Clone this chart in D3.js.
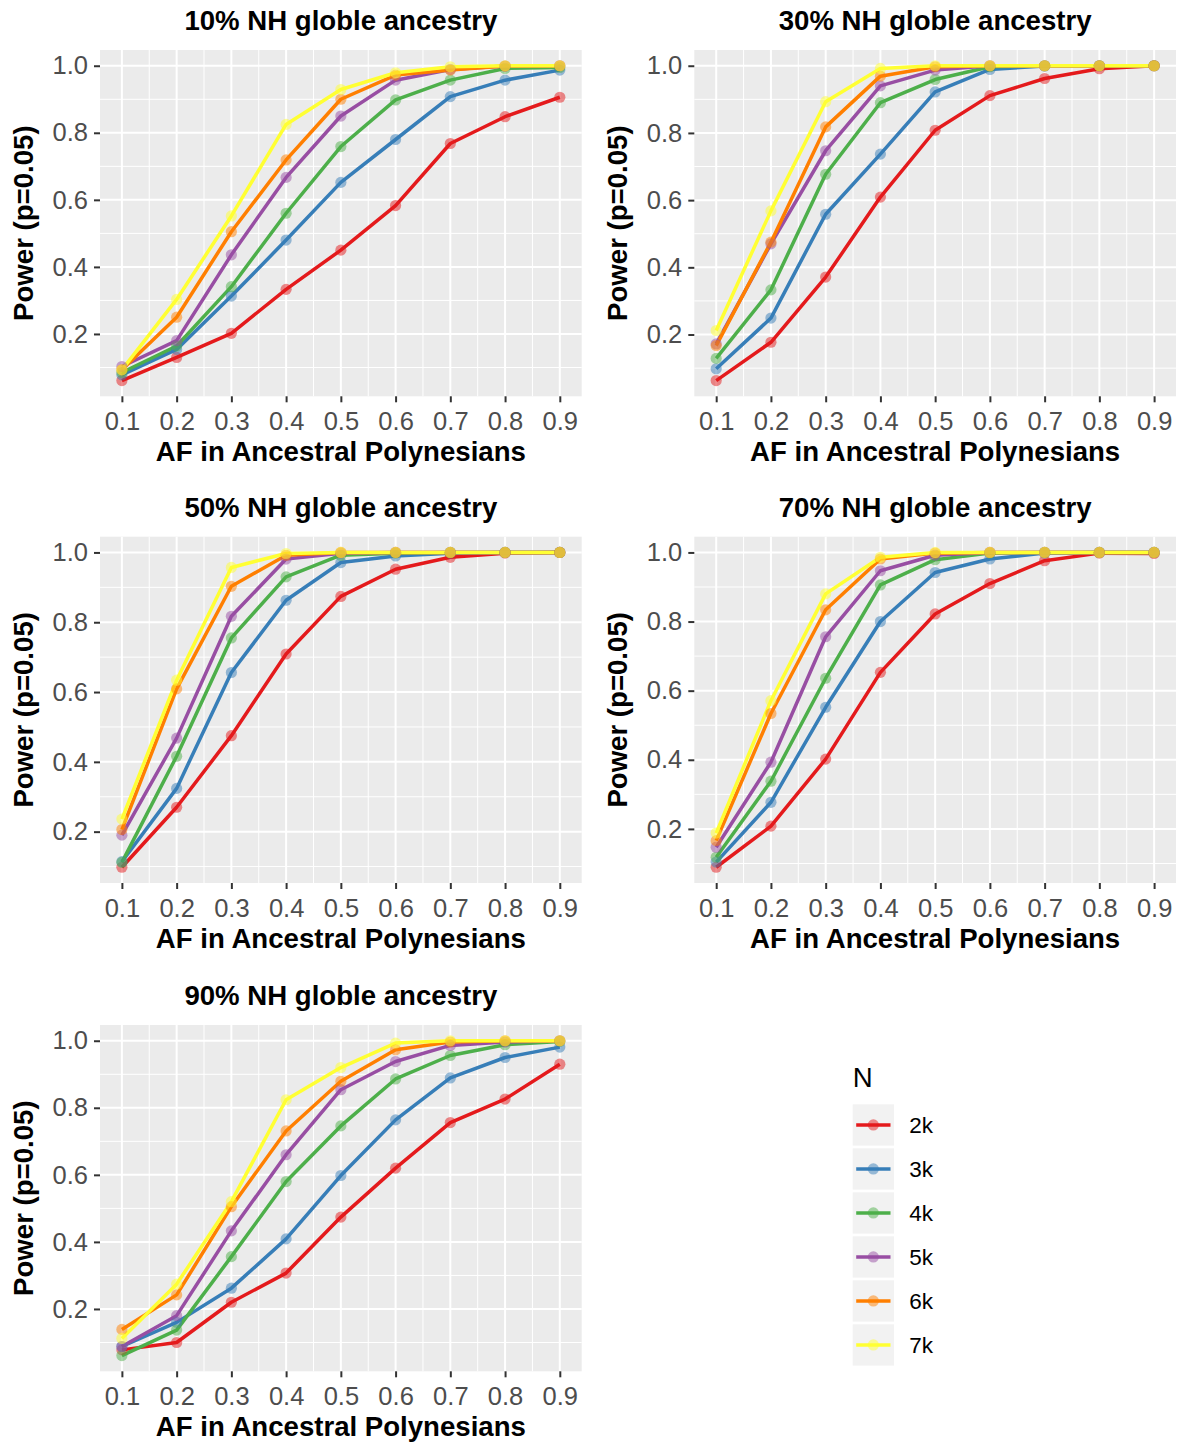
<!DOCTYPE html>
<html>
<head>
<meta charset="utf-8">
<script src="https://cdn.jsdelivr.net/npm/d3@7"></script>
<style>
  html, body { margin: 0; padding: 0; background: #ffffff; }
  svg { display: block; font-family: "Liberation Sans", Arial, Helvetica, sans-serif; }
</style>
</head>
<body>
<svg id="chart" width="1178" height="1446"></svg>
<script>
// ---------------- data ----------------
const afValues = [0.1, 0.2, 0.3, 0.4, 0.5, 0.6, 0.7, 0.8, 0.9];
const seriesNames = ["2k", "3k", "4k", "5k", "6k", "7k"];
const seriesColors = ["#E41A1C", "#377EB8", "#4DAF4A", "#984EA3", "#FF7F00", "#FFFF33"];
const panelTitles = ["10% NH globle ancestry", "30% NH globle ancestry", "50% NH globle ancestry",
                     "70% NH globle ancestry", "90% NH globle ancestry"];
const xTicks = [0.1, 0.2, 0.3, 0.4, 0.5, 0.6, 0.7, 0.8, 0.9];
const yTicks = [0.2, 0.4, 0.6, 0.8, 1.0];
const xTitle = "AF in Ancestral Polynesians";
const yTitle = "Power (p=0.05)";
const legendTitle = "N";

// power by series (rows: 2k..7k), columns follow afValues
const power10 = [
  [0.061, 0.130, 0.202, 0.333, 0.450, 0.583, 0.768, 0.848, 0.906],
  [0.078, 0.154, 0.313, 0.480, 0.652, 0.780, 0.908, 0.957, 0.987],
  [0.085, 0.164, 0.341, 0.560, 0.759, 0.898, 0.957, 0.992, 0.995],
  [0.103, 0.180, 0.436, 0.667, 0.850, 0.957, 0.989, 0.999, 1.000],
  [0.093, 0.250, 0.505, 0.719, 0.900, 0.972, 0.987, 0.999, 1.000],
  [0.093, 0.303, 0.552, 0.825, 0.929, 0.979, 0.997, 1.000, 1.000]
];
const power30 = [
  [0.063, 0.177, 0.371, 0.609, 0.808, 0.911, 0.962, 0.991, 1.000],
  [0.098, 0.249, 0.558, 0.737, 0.922, 0.989, 0.999, 1.000, 1.000],
  [0.129, 0.333, 0.677, 0.890, 0.959, 0.997, 1.000, 1.000, 1.000],
  [0.172, 0.470, 0.747, 0.940, 0.987, 1.000, 1.000, 1.000, 1.000],
  [0.167, 0.475, 0.818, 0.969, 0.997, 1.000, 1.000, 1.000, 1.000],
  [0.212, 0.568, 0.893, 0.992, 1.000, 1.000, 1.000, 1.000, 1.000]
];
const power50 = [
  [0.098, 0.270, 0.475, 0.709, 0.874, 0.952, 0.986, 0.998, 1.000],
  [0.114, 0.324, 0.656, 0.863, 0.971, 0.990, 0.998, 1.000, 1.000],
  [0.112, 0.416, 0.755, 0.930, 0.992, 0.998, 1.000, 1.000, 1.000],
  [0.190, 0.468, 0.817, 0.981, 0.998, 1.000, 1.000, 1.000, 1.000],
  [0.206, 0.609, 0.903, 0.992, 1.000, 1.000, 1.000, 1.000, 1.000],
  [0.236, 0.634, 0.957, 0.997, 1.000, 1.000, 1.000, 1.000, 1.000]
];
const power70 = [
  [0.089, 0.208, 0.402, 0.653, 0.822, 0.910, 0.976, 0.998, 0.997],
  [0.104, 0.277, 0.552, 0.800, 0.942, 0.981, 0.998, 1.000, 1.000],
  [0.118, 0.338, 0.636, 0.906, 0.979, 0.998, 1.000, 1.000, 1.000],
  [0.147, 0.393, 0.756, 0.947, 0.992, 1.000, 1.000, 1.000, 1.000],
  [0.166, 0.534, 0.834, 0.981, 0.998, 1.000, 1.000, 1.000, 1.000],
  [0.188, 0.571, 0.880, 0.986, 1.000, 1.000, 1.000, 1.000, 1.000]
];
const power90 = [
  [0.078, 0.100, 0.220, 0.307, 0.474, 0.620, 0.756, 0.826, 0.930],
  [0.088, 0.160, 0.262, 0.409, 0.598, 0.764, 0.889, 0.950, 0.981],
  [0.061, 0.137, 0.356, 0.580, 0.746, 0.886, 0.956, 0.988, 0.998],
  [0.088, 0.180, 0.433, 0.660, 0.854, 0.938, 0.986, 0.996, 1.000],
  [0.139, 0.242, 0.505, 0.731, 0.879, 0.973, 0.996, 1.000, 1.000],
  [0.112, 0.274, 0.520, 0.824, 0.920, 0.993, 1.000, 1.000, 1.000]
];
const panelData = [power10, power30, power50, power70, power90];

// ---------------- layout ----------------
const svg = d3.select("#chart");
const colLeft = [100, 694.3];
const panelW = 481.7;
const rowTop = [50, 536.7, 1025];
const panelH = 346.3;
const FONT = '"Liberation Sans", Arial, Helvetica, sans-serif';
const LINE_W = 3.5, PT_R = 5.6;

function expand(lo, hi, f) { const d = (hi - lo) * f; return [lo - d, hi + d]; }

panelData.forEach((series, i) => {
  const col = i % 2, row = Math.floor(i / 2);
  const left = colLeft[col], right = left + panelW;
  const top = rowTop[row], bottom = top + panelH;

  const xDom = expand(d3.min(afValues), d3.max(afValues), 0.05);
  const allVals = series.flat();
  const yDom = expand(d3.min(allVals), d3.max(allVals), 0.05);

  const x = d3.scaleLinear().domain(xDom).range([left, right]);
  const y = d3.scaleLinear().domain(yDom).range([bottom, top]);

  const g = svg.append("g");

  // panel background
  g.append("rect").attr("x", left).attr("y", top)
    .attr("width", right - left).attr("height", bottom - top).attr("fill", "#EBEBEB");

  // minor grid
  const xMinor = d3.range(0.15, 0.9, 0.1).filter(v => v > xDom[0] && v < xDom[1]);
  const yMinor = [0.1, 0.3, 0.5, 0.7, 0.9].filter(v => v > yDom[0] && v < yDom[1]);
  g.selectAll(".xminor").data(xMinor).join("line")
    .attr("x1", d => x(d)).attr("x2", d => x(d)).attr("y1", top).attr("y2", bottom)
    .attr("stroke", "#ffffff").attr("stroke-width", 1);
  g.selectAll(".yminor").data(yMinor).join("line")
    .attr("y1", d => y(d)).attr("y2", d => y(d)).attr("x1", left).attr("x2", right)
    .attr("stroke", "#ffffff").attr("stroke-width", 1);
  // major grid
  g.selectAll(".xmajor").data(xTicks).join("line")
    .attr("x1", d => x(d)).attr("x2", d => x(d)).attr("y1", top).attr("y2", bottom)
    .attr("stroke", "#ffffff").attr("stroke-width", 2);
  g.selectAll(".ymajor").data(yTicks).join("line")
    .attr("y1", d => y(d)).attr("y2", d => y(d)).attr("x1", left).attr("x2", right)
    .attr("stroke", "#ffffff").attr("stroke-width", 2);

  // lines
  const line = d3.line().x((d, k) => x(afValues[k])).y(d => y(d));
  series.forEach((vals, s) => {
    g.append("path").datum(vals).attr("d", line)
      .attr("fill", "none").attr("stroke", seriesColors[s]).attr("stroke-width", LINE_W)
      .attr("stroke-linejoin", "round");
  });
  // points (semi-transparent, on top of lines)
  series.forEach((vals, s) => {
    g.append("g").selectAll("circle").data(vals).join("circle")
      .attr("cx", (d, k) => x(afValues[k])).attr("cy", d => y(d)).attr("r", PT_R)
      .attr("fill", seriesColors[s]).attr("fill-opacity", 0.5);
  });

  // axes
  const xAxis = d3.axisBottom(x).tickValues(xTicks).tickFormat(d3.format(".1f"))
    .tickSize(6).tickPadding(10);
  const yAxis = d3.axisLeft(y).tickValues(yTicks).tickFormat(d3.format(".1f"))
    .tickSize(6).tickPadding(6);
  const gx = g.append("g").attr("transform", `translate(0,${bottom})`).call(xAxis);
  const gy = g.append("g").attr("transform", `translate(${left},0)`).call(yAxis);
  [gx, gy].forEach(ax => {
    ax.select(".domain").remove();
    ax.selectAll(".tick line").attr("stroke", "#333333").attr("stroke-width", 2);
    ax.selectAll(".tick text").attr("fill", "#4D4D4D")
      .style("font-family", FONT).style("font-size", "25.5px");
  });
  gx.selectAll(".tick text").attr("dy", "0.71em");

  // titles
  g.append("text").attr("x", (left + right) / 2).attr("y", top - 20)
    .attr("text-anchor", "middle").style("font-family", FONT)
    .style("font-size", "27.6px").style("font-weight", "bold").attr("fill", "#000")
    .text(panelTitles[i]);
  g.append("text").attr("x", (left + right) / 2).attr("y", bottom + 65)
    .attr("text-anchor", "middle").style("font-family", FONT)
    .style("font-size", "27.6px").style("font-weight", "bold").attr("fill", "#000")
    .text(xTitle);
  g.append("text")
    .attr("transform", `translate(${left - 67},${(top + bottom) / 2}) rotate(-90)`)
    .attr("text-anchor", "middle").style("font-family", FONT)
    .style("font-size", "27.6px").style("font-weight", "bold").attr("fill", "#000")
    .text(yTitle);
});

// ---------------- legend ----------------
const lg = svg.append("g");
const lgX = 852.7, lgTop = 1104.3, keyPitch = 44, keySize = 41.3;
lg.append("text").attr("x", lgX).attr("y", 1086.5)
  .style("font-family", FONT).style("font-size", "27.6px").attr("fill", "#000")
  .text(legendTitle);
const ky = d3.scaleBand().domain(seriesNames).range([lgTop, lgTop + keyPitch * seriesNames.length]);
seriesNames.forEach((name, s) => {
  const yy = ky(name);
  const cy = yy + keySize / 2;
  lg.append("rect").attr("x", lgX).attr("y", yy).attr("width", keySize).attr("height", keySize)
    .attr("fill", "#F2F2F2");
  lg.append("line").attr("x1", lgX + 3.5).attr("x2", lgX + keySize - 3.5)
    .attr("y1", cy).attr("y2", cy).attr("stroke", seriesColors[s]).attr("stroke-width", LINE_W);
  lg.append("circle").attr("cx", lgX + keySize / 2).attr("cy", cy).attr("r", PT_R)
    .attr("fill", seriesColors[s]).attr("fill-opacity", 0.5);
  lg.append("text").attr("x", 909.3).attr("y", cy).attr("dy", "0.36em")
    .style("font-family", FONT).style("font-size", "22.5px").attr("fill", "#000")
    .text(name);
});
</script>
</body>
</html>
